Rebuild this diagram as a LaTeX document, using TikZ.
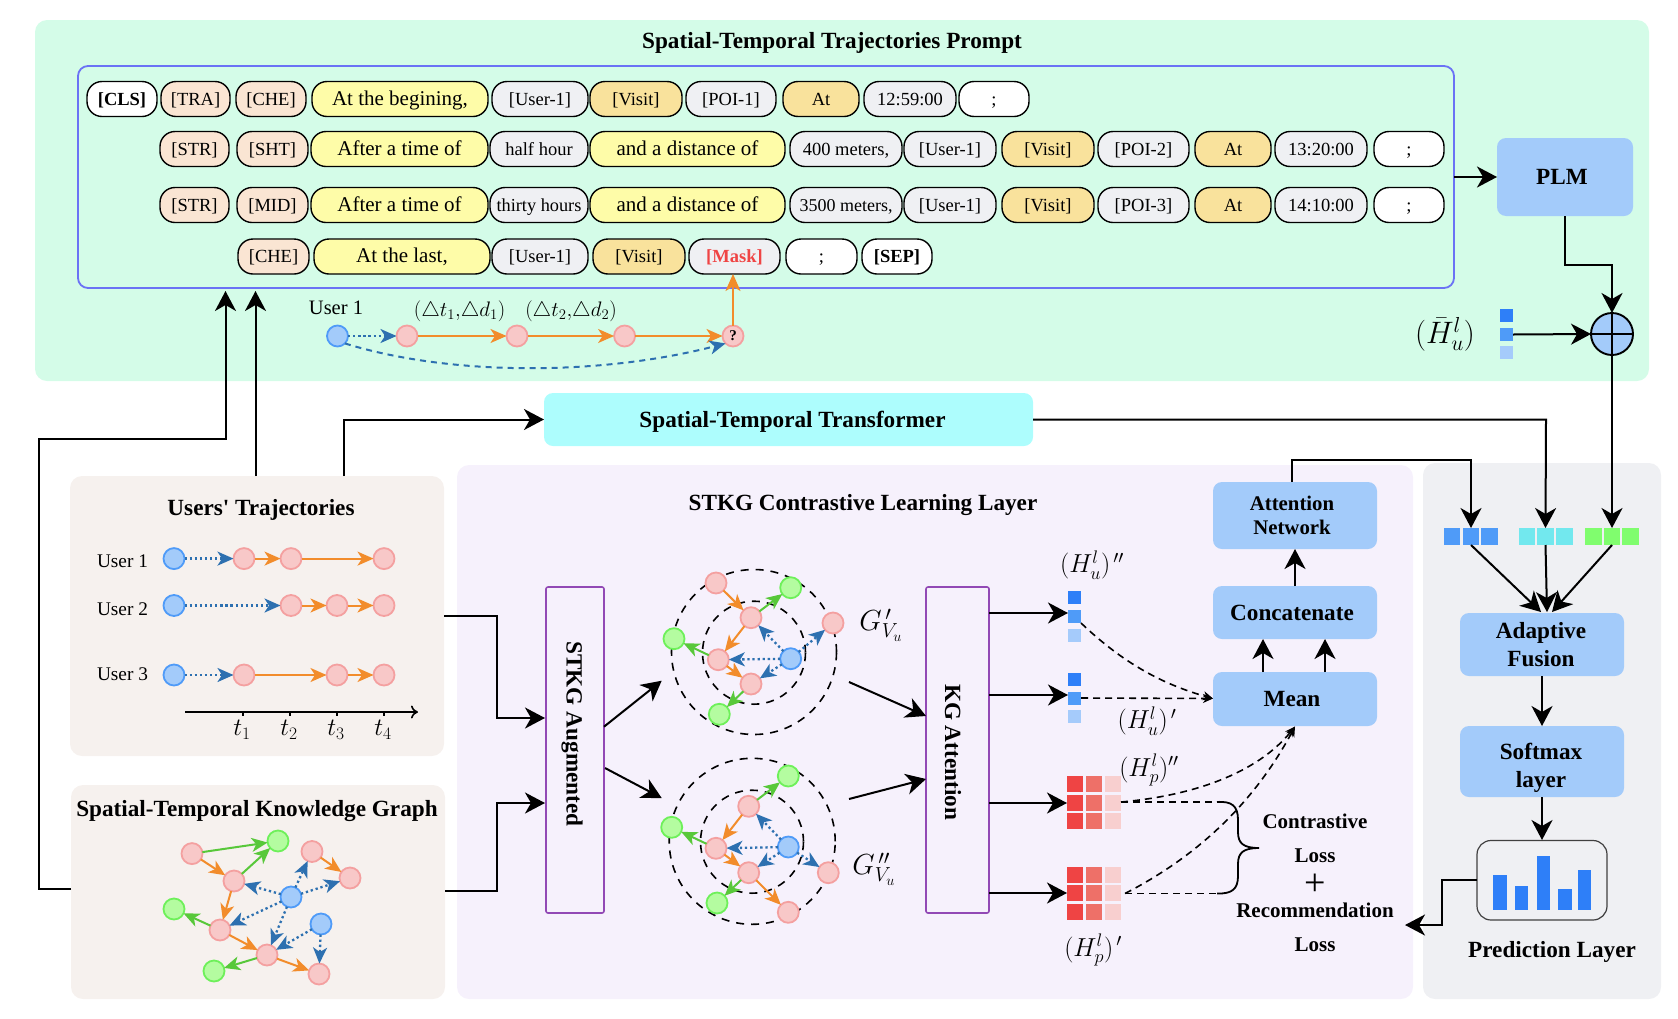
\RequirePackage{fix-cm}
\documentclass[tikz,border=0pt]{standalone}
\usepackage{fontspec}
\setmainfont{Liberation Serif}
\newfontfamily\plainf{Liberation Serif}
\usetikzlibrary{arrows.meta,calc,positioning}
\definecolor{cgreenbg}{HTML}{D4FCE8}
\definecolor{cpromptb}{HTML}{6B72F5}
\definecolor{cpeach}{HTML}{FAE5D3}
\definecolor{cyell}{HTML}{FEFCA8}
\definecolor{cgray}{HTML}{EFF0F3}
\definecolor{cgold}{HTML}{F9E29C}
\definecolor{cboxb}{HTML}{A3CBFA}
\definecolor{ccyan}{HTML}{ADFDFD}
\definecolor{cwarm}{HTML}{F6F1EE}
\definecolor{cviolet}{HTML}{F6F1FC}
\definecolor{cpurple}{HTML}{9249B5}
\definecolor{cpinkf}{HTML}{F8C8C8}
\definecolor{cpinkd}{HTML}{F4A0A0}
\definecolor{cbluef}{HTML}{A3CBFA}
\definecolor{cblued}{HTML}{4F9BF8}
\definecolor{cgreenf}{HTML}{B4FCA0}
\definecolor{cgreend}{HTML}{6EF05A}
\definecolor{corange}{HTML}{F28C2B}
\definecolor{cdarkblue}{HTML}{2D70B0}
\definecolor{cdgreen}{HTML}{58C83A}
\definecolor{sqa}{HTML}{2E7FF8}
\definecolor{sqb}{HTML}{4F9BF8}
\definecolor{sqc}{HTML}{A5CBFB}
\definecolor{sqcy}{HTML}{72E8EE}
\definecolor{sqgr}{HTML}{80FD6E}
\definecolor{reda}{HTML}{EF4444}
\definecolor{redb}{HTML}{EE7068}
\definecolor{redc}{HTML}{F8CFCF}
\newcommand{\fsz}[1]{\fontsize{#1}{#1}\selectfont}
\tikzset{
  x=1pt,y=-1pt,
  basebox/.style={inner sep=0pt,outer sep=0pt,align=center},
  pillbox/.style={basebox,draw=black,line width=1.4pt,rounded corners=15pt,font=\fsz{18.5},text height=16pt,text depth=4pt},
  panelbox/.style={basebox,rounded corners=12pt},
  bluebox/.style={basebox,fill=cboxb,rounded corners=9pt,font=\fsz{23.2}\bfseries},
  oneline/.style={text height=18pt,text depth=3pt},
  purplebox/.style={basebox,draw=cpurple,line width=1.6pt,rounded corners=2pt,font=\fsz{23.2}\bfseries},
  btitle/.style={basebox,font=\fsz{23.2}\bfseries},
  losstext/.style={basebox,font=\fsz{21}\bfseries},
  mathlab/.style={basebox,font=\fsz{26}},
  pinknode/.style={circle,minimum size=21pt,inner sep=0pt,outer sep=0pt,fill=cpinkf,draw=cpinkd,line width=1.8pt},
  bluenode/.style={circle,minimum size=21pt,inner sep=0pt,outer sep=0pt,fill=cbluef,draw=cblued,line width=1.8pt},
  greennode/.style={circle,minimum size=21pt,inner sep=0pt,outer sep=0pt,fill=cgreenf,draw=cgreend,line width=1.8pt},
  oarrow/.style={draw=corange,line width=2pt,-{Stealth[length=16pt,width=14pt,inset=4.5pt]}},
  garrow/.style={draw=cdgreen,line width=2pt,-{Stealth[length=16pt,width=14pt,inset=4.5pt]}},
  barrow/.style={draw=cdarkblue,line width=2.3pt,dash pattern=on 2.3pt off 2.8pt,-{Stealth[length=16pt,width=14pt,inset=4.5pt,sep=0pt]}},
  blk/.style={draw=black,line width=2pt,-{Stealth[length=20pt,width=21pt,inset=6pt]}},
  blks/.style={draw=black,line width=1.9pt},
  dsh/.style={draw=black,line width=1.6pt,dash pattern=on 7pt off 5pt},
  dsha/.style={dsh,-{Stealth[length=10pt,width=9pt,inset=3pt]}},
  ringc/.style={circle,draw=black,line width=1.6pt,dash pattern=on 8pt off 7pt,inner sep=0pt},
}
\newcommand{\rbox}[7][]{\node[#2,minimum width={(#5)-(#3)},minimum height={(#6)-(#4)},#1] (#7) at ({((#3)+(#5))/2},{((#4)+(#6))/2})}
\newcommand{\pill}[6]{\rbox{pillbox,fill=#5}{#2}{#3-17.5}{#4}{#3+17.5}{#1}{#6};}
\newcommand{\sqr}[6]{\node[inner sep=0pt,outer sep=0pt,fill=#6,minimum width={(#4)-(#2)},minimum height={(#5)-(#3)}] (#1) at ({((#2)+(#4))/2},{((#3)+(#5))/2}) {};}
\newcommand{\redgrid}[4]{%
  \sqr{#1a}{1067}{#2}{1083}{#2+16}{reda}\sqr{#1b}{1086}{#2}{1102}{#2+16}{redb}\sqr{#1c}{1105}{#2}{1121}{#2+16}{redc}
  \sqr{#1d}{1067}{#3}{1083}{#3+16}{reda}\sqr{#1e}{1086}{#3}{1102}{#3+16}{redb}\sqr{#1f}{1105}{#3}{1121}{#3+16}{redc}
  \sqr{#1g}{1067}{#4}{1083}{#4+16}{reda}\sqr{#1h}{1086}{#4}{1102}{#4+16}{redb}\sqr{#1i}{1105}{#4}{1121}{#4+16}{redc}}
\begin{document}
\begin{tikzpicture}
\useasboundingbox (0,0) rectangle (1678,1018);
% ---- panels
\rbox{panelbox,fill=cgreenbg}{35}{20}{1649}{381}{prompt}{};
\rbox{panelbox,fill=cviolet}{457}{465}{1413}{999}{clpanel}{};
\rbox{panelbox,fill=cgray}{1423}{463}{1661}{999}{predpanel}{};
\rbox{panelbox,fill=cwarm}{70}{476}{444}{756}{users}{};
\rbox{panelbox,fill=cwarm}{71}{785}{445}{999}{kg}{};
\node[btitle] (ptitle) at (832,43) {Spatial-Temporal Trajectories Prompt};
\rbox{basebox,draw=cpromptb,line width=1.8pt,rounded corners=10pt}{78}{66}{1454}{288}{pbox}{};
% row 1
\pill{r1a}{87}{99}{157}{white}{\textbf{[CLS]}}
\pill{r1b}{161}{99}{230}{cpeach}{[TRA]}
\pill{r1c}{236}{99}{306}{cpeach}{[CHE]}
\pill{r1d}{312}{99}{488}{cyell}{\fsz{21}At the begining,}
\pill{r1e}{492}{99}{588}{cgray}{[User-1]}
\pill{r1f}{590}{99}{682}{cgold}{[Visit]}
\pill{r1g}{686}{99}{776}{cgray}{[POI-1]}
\pill{r1h}{783}{99}{859}{cgold}{At}
\pill{r1i}{864}{99}{956}{cgray}{12:59:00}
\pill{r1j}{959}{99}{1029}{white}{;}
% row 2
\pill{r2a}{160}{149}{229}{cpeach}{[STR]}
\pill{r2b}{237}{149}{308}{cpeach}{[SHT]}
\pill{r2c}{311}{149}{488}{cyell}{\fsz{21}After a time of}
\pill{r2d}{490}{149}{588}{cgray}{half hour}
\pill{r2e}{590}{149}{785}{cyell}{\fsz{21}and a distance of}
\pill{r2f}{790}{149}{902}{cgray}{400 meters,}
\pill{r2g}{904}{149}{996}{cgray}{[User-1]}
\pill{r2h}{1002}{149}{1094}{cgold}{[Visit]}
\pill{r2i}{1098}{149}{1189}{cgray}{[POI-2]}
\pill{r2j}{1195}{149}{1271}{cgold}{At}
\pill{r2k}{1275}{149}{1367}{cgray}{13:20:00}
\pill{r2l}{1374}{149}{1444}{white}{;}
% row 3
\pill{r3a}{160}{205}{229}{cpeach}{[STR]}
\pill{r3b}{237}{205}{308}{cpeach}{[MID]}
\pill{r3c}{311}{205}{488}{cyell}{\fsz{21}After a time of}
\pill{r3d}{490}{205}{588}{cgray}{\fsz{18.3}thirty hours}
\pill{r3e}{590}{205}{785}{cyell}{\fsz{21}and a distance of}
\pill{r3f}{790}{205}{902}{cgray}{\fsz{18}3500 meters,}
\pill{r3g}{904}{205}{996}{cgray}{[User-1]}
\pill{r3h}{1002}{205}{1094}{cgold}{[Visit]}
\pill{r3i}{1098}{205}{1189}{cgray}{[POI-3]}
\pill{r3j}{1195}{205}{1271}{cgold}{At}
\pill{r3k}{1275}{205}{1367}{cgray}{14:10:00}
\pill{r3l}{1374}{205}{1444}{white}{;}
% row 4
\pill{r4a}{238}{256.5}{309}{cpeach}{[CHE]}
\pill{r4b}{314}{256.5}{490}{cyell}{\fsz{21}At the last,}
\pill{r4c}{492}{256.5}{588}{cgray}{[User-1]}
\pill{r4d}{593}{256.5}{685}{cgold}{[Visit]}
\pill{r4e}{689}{256.5}{780}{cgray}{\textcolor{reda}{\textbf{[Mask]}}}
\pill{r4f}{786}{256.5}{857}{white}{;}
\pill{r4g}{862}{256.5}{932}{white}{\textbf{[SEP]}}
% mini trajectory
\node[basebox,font=\fsz{20.5}] (mu) at (336,308) {User 1};
\node[mathlab,font=\fsz{21}] (md1) at (459.6,311) {$(\triangle t_1,\!\triangle d_1)$};
\node[mathlab,font=\fsz{21}] (md2) at (571,311) {$(\triangle t_2,\!\triangle d_2)$};
\node[bluenode] (m0) at (337.5,336) {};
\node[pinknode] (m1) at (407,336) {};
\node[pinknode] (m2) at (517,336) {};
\node[pinknode] (m3) at (624.6,336) {};
\node[pinknode,font=\fsz{15}\bfseries] (m4) at (733,336) {?};
\draw[barrow] (m0) -- (m1);
\draw[oarrow] (m1) -- (m2);
\draw[oarrow] (m2) -- (m3);
\draw[oarrow] (m3) -- (m4);
\draw[oarrow,-{Stealth[length=17pt,width=15pt,inset=4.5pt]}] (m4) -- (r4e.south -| m4);
\draw[draw=cdarkblue,line width=2pt,dash pattern=on 6pt off 5pt,-{Stealth[length=16pt,width=14pt,inset=4.5pt]}] (m0.south east) .. controls (450,376) and (600,376) .. (m4.south west);
% PLM and fusion
\rbox{bluebox,oneline}{1497}{138}{1633}{216}{plm}{\hspace*{-6pt}PLM};
\coordinate (pout) at (1454,177);
\draw[blk] (pout) -- (plm.west);
\node[circle,minimum size=42pt,inner sep=0pt,outer sep=0pt,fill=cboxb,draw=black,line width=1.9pt] (fus) at (1612,334) {};
\draw[blks] (fus.north) -- (fus.south);
\draw[blks] (fus.west) -- (fus.east);
\draw[blk] (plm.south) -- ++(0,49) -| (fus.north);
\sqr{ha}{1500}{309}{1513}{322}{sqa}
\sqr{hb}{1500}{328}{1513}{341}{sqb}
\sqr{hc}{1500}{346}{1513}{359}{sqc}
\draw[blk] (hb.east) -- (fus.west);
\node[mathlab,font=\fsz{31}] (hbar) at (1445,334) {$(\bar{H}_u^l)$};
% transformer
\rbox{basebox,oneline,fill=ccyan,rounded corners=9pt,font=\fsz{23.2}\bfseries}{544}{393}{1033}{446}{trans}{\hspace*{8pt}Spatial-Temporal Transformer};
% users panel
\node[btitle] (utitle) at (261,510) {Users{\plainf\bfseries'} Trajectories};
\node[basebox,font=\fsz{19.3},anchor=west] (ul1) at (97,561) {User 1};
\node[basebox,font=\fsz{19.3},anchor=west] (ul2) at (97,609.5) {User 2};
\node[basebox,font=\fsz{19.3},anchor=west] (ul3) at (97,674.5) {User 3};
\node[bluenode] (ua0) at (174,558.6) {};
\node[pinknode] (ua1) at (244,558.6) {};
\node[pinknode] (ua2) at (291,558.6) {};
\node[pinknode] (ua4) at (384,558.6) {};
\draw[barrow] (ua0) -- (ua1); \draw[oarrow] (ua1) -- (ua2); \draw[oarrow] (ua2) -- (ua4);
\node[bluenode] (ub0) at (174,605.5) {};
\node[pinknode] (ub2) at (291,605.5) {};
\node[pinknode] (ub3) at (337,605.5) {};
\node[pinknode] (ub4) at (384,605.5) {};
\draw[barrow] (ub0) -- (ub2); \draw[oarrow] (ub2) -- (ub3); \draw[oarrow] (ub3) -- (ub4);
\node[bluenode] (uc0) at (174,675) {};
\node[pinknode] (uc1) at (244,675) {};
\node[pinknode] (uc3) at (337,675) {};
\node[pinknode] (uc4) at (384,675) {};
\draw[barrow] (uc0) -- (uc1); \draw[oarrow] (uc1) -- (uc3); \draw[oarrow] (uc3) -- (uc4);
\coordinate (axa) at (185,712); \coordinate (axb) at (418,712);
\draw[line width=1.6pt,-{To[length=7pt,width=13pt]}] (axa) -- (axb);
\foreach \tx/\ti in {243/1,290/2,337/3,384/4}{
  \draw[line width=1.2pt] (\tx,712) -- (\tx,716);
  \node[mathlab,font=\fsz{25}] (tl\ti) at (\tx-1,730) {$t_{\ti}$};
}
% KG panel
\node[btitle] (ktitle) at (257,811) {Spatial-Temporal Knowledge Graph};
\node[pinknode] (kA) at (192,853.6) {};
\node[greennode] (kB) at (278,841) {};
\node[pinknode] (kC) at (312,851.5) {};
\node[pinknode] (kD) at (350,878) {};
\node[pinknode] (kE) at (234,881) {};
\node[bluenode] (kF) at (291,897) {};
\node[greennode] (kG) at (174,909) {};
\node[pinknode] (kH) at (220,930) {};
\node[bluenode] (kI) at (321,924) {};
\node[pinknode] (kJ) at (267,955) {};
\node[greennode] (kK) at (214,971) {};
\node[pinknode] (kL) at (319,974) {};
\draw[garrow] (kA) -- (kB); \draw[oarrow] (kA) -- (kE); \draw[garrow] (kE) -- (kB);
\draw[oarrow] (kC) -- (kD); \draw[barrow] (kF) -- (kC); \draw[barrow] (kF) -- (kD);
\draw[barrow] (kF) -- (kE); \draw[barrow] (kF) -- (kH); \draw[barrow] (kF) -- (kJ);
\draw[barrow] (kI) -- (kJ); \draw[barrow] (kI) -- (kL); \draw[oarrow] (kE) -- (kH);
\draw[garrow] (kH) -- (kG); \draw[oarrow] (kH) -- (kJ); \draw[garrow] (kJ) -- (kK);
\draw[oarrow] (kJ) -- (kL);
% contrastive panel
\node[btitle] (ctitle) at (863,505) {STKG Contrastive Learning Layer};
\rbox{purplebox}{546}{587}{604}{913}{aug}{};
\node[btitle,rotate=-90] (augt) at (572,734) {STKG Augmented};
\rbox{purplebox}{926}{587}{989}{913}{att}{};
\node[btitle,rotate=-90] (attt) at (953,752) {KG Attention};
% upper graph
\node[ringc,minimum size=165pt] (uo) at (754,652) {};
\node[ringc,minimum size=103pt] (ui) at (754,652.7) {};
\node[pinknode] (pa) at (716,583) {};
\node[greennode] (pb) at (790.7,587.7) {};
\node[pinknode] (pc) at (751,617.7) {};
\node[pinknode] (pd) at (833,623) {};
\node[greennode] (pe) at (674,638.7) {};
\node[pinknode] (pf) at (718.3,659.7) {};
\node[bluenode] (pg) at (790.7,658.7) {};
\node[pinknode] (ph) at (751,684) {};
\node[greennode] (pi) at (719.3,714.3) {};
\draw[oarrow] (pa) -- (pc); \draw[garrow] (pc) -- (pb); \draw[oarrow] (pc) -- (pf);
\draw[barrow] (pg) -- (pc); \draw[barrow] (pg) -- (pd); \draw[barrow] (pg) -- (pf);
\draw[barrow] (pg) -- (ph); \draw[garrow] (pf) -- (pe); \draw[oarrow] (pf) -- (ph);
\draw[garrow] (ph) -- (pi);
% lower graph
\node[ringc,minimum size=166pt] (lo) at (752.2,841.3) {};
\node[ringc,minimum size=103pt] (li) at (752,841.7) {};
\node[greennode] (qa) at (788.3,776) {};
\node[pinknode] (qc) at (748.7,806.3) {};
\node[greennode] (qe) at (671.7,827.3) {};
\node[pinknode] (qf) at (716,848.3) {};
\node[bluenode] (qg) at (788.3,847) {};
\node[pinknode] (qd) at (828.3,872.7) {};
\node[pinknode] (qh) at (748.7,872.7) {};
\node[greennode] (qi) at (717,903) {};
\node[pinknode] (qj) at (788.3,912.3) {};
\draw[garrow] (qc) -- (qa); \draw[oarrow] (qc) -- (qf); \draw[barrow] (qg) -- (qc);
\draw[barrow] (qg) -- (qf); \draw[barrow] (qg) -- (qh); \draw[barrow] (qg) -- (qd);
\draw[garrow] (qf) -- (qe); \draw[oarrow] (qf) -- (qh); \draw[garrow] (qh) -- (qi);
\draw[oarrow] (qh) -- (qj);
\node[mathlab,font=\fsz{29}] (g1) at (881,625) {$G^{\,\prime}_{V_u}$};
\node[mathlab,font=\fsz{29}] (g2) at (874,869) {$G^{\,\prime\prime}_{V_u}$};
% arrows between
\coordinate (c1) at (604,726.7); \coordinate (c2) at (661.7,680.7);
\coordinate (c3) at (605,768); \coordinate (c4) at (661.7,798);
\coordinate (c5) at (849,682); \coordinate (c6) at (926,716);
\coordinate (c7) at (849,799); \coordinate (c8) at (926,779);
\draw[blk] (c1) -- (c2); \draw[blk] (c3) -- (c4); \draw[blk] (c5) -- (c6); \draw[blk] (c7) -- (c8);
\coordinate (uout) at (444,616); \coordinate (ain1) at (545,718);
\coordinate (kout) at (445,891); \coordinate (ain2) at (545,803);
\draw[blk] (uout) -- (497,616) -- (497,718) -- (ain1);
\draw[blk] (kout) -- (497,891) -- (497,803) -- (ain2);
% embeddings
\sqr{ua}{1068}{591}{1081}{604}{sqa}\sqr{ub}{1068}{610}{1081}{623}{sqb}\sqr{uc}{1068}{629}{1081}{642}{sqc}
\sqr{va}{1068}{673}{1081}{686}{sqa}\sqr{vb}{1068}{692}{1081}{705}{sqb}\sqr{vc}{1068}{710}{1081}{723}{sqc}
\redgrid{ma}{776}{795}{813}
\redgrid{mb}{867}{885}{904}
\coordinate (t1) at (989,613); \coordinate (t2) at (989,695); \coordinate (t3) at (989,803); \coordinate (t4) at (989,893);
\draw[blk] (t1) -- (ub.west |- t1);
\draw[blk] (t2) -- (vb.west |- t2);
\draw[blk] (t3) -- (mad.west |- t3);
\draw[blk] (t4) -- (mbd.west |- t4);
\node[mathlab] (l1) at (1092,565) {$(H_u^l)^{\,\prime\prime}$};
\node[mathlab] (l2) at (1147,721) {$(H_u^l)^{\,\prime}$};
\node[mathlab] (l3) at (1149,770) {$(H_p^l)^{\prime\prime}$};
\node[mathlab] (l4) at (1093,950) {$(H_p^l)^{\,\prime}$};
% blue boxes
\rbox{bluebox,font=\fsz{20.8}\bfseries}{1213}{482}{1377}{549}{an}{\hspace*{-6pt}Attention\\[3pt]\hspace*{-6pt}Network};
\rbox{bluebox,oneline}{1213}{586}{1377}{639}{cc}{\hspace*{-6pt}Concatenate};
\rbox{bluebox,oneline}{1213}{672}{1377}{726}{mn}{\hspace*{-6pt}Mean};
\coordinate (ccup) at (1295,586); \coordinate (anlo) at (1295,549);
\draw[blk] (ccup) -- (anlo);
\coordinate (mu1) at (1263,672); \coordinate (mu2) at (1325,672);
\draw[blk] (mu1) -- (mu1 |- cc.south);
\draw[blk] (mu2) -- (mu2 |- cc.south);
% dashed lines
\coordinate (d1s) at (1081,623); \coordinate (d2s) at (1081,698); \coordinate (mnw) at (1213,698.5);
\coordinate (d3s) at (1121,802); \coordinate (d4s) at (1125,893.5); \coordinate (mns) at (1295,726.5);
\coordinate (b1) at (1217,802); \coordinate (b2) at (1217,893.5);
\draw[dsha] (d1s) .. controls (1125,665) and (1165,685) .. (mnw);
\draw[dsha] (d2s) -- (mnw);
\draw[dsha] (d3s) .. controls (1200,795) and (1260,770) .. (mns);
\draw[dsha] (d4s) .. controls (1190,860) and (1250,810) .. (mns);
\draw[dsh] (d3s) -- (b1);
\draw[dsh] (d4s) -- (b2);
\coordinate (btip) at (1259,848);
\draw[line width=1.8pt] (b1) .. controls (1232,801) and (1238,806) .. (1238,820) -- (1238,832) .. controls (1238,843) and (1243,848) .. (btip)
  (btip) .. controls (1243,848) and (1238,853) .. (1238,864) -- (1238,876) .. controls (1238,889) and (1232,894) .. (b2);
% loss text
\node[losstext] (lc) at (1315,821) {Contrastive};
\node[losstext] (ll) at (1315,856) {Loss};
\node[basebox,font=\fsz{38}] (lp) at (1315,885) {+};
\node[losstext] (lr) at (1315,910) {Recommendation};
\node[losstext] (ll2) at (1315,945) {Loss};
% prediction panel
\sqr{s1}{1444}{528}{1460}{545}{sqb}\sqr{s2}{1463}{528}{1479}{545}{sqb}\sqr{s3}{1481}{528}{1498}{545}{sqb}
\sqr{s4}{1519}{528}{1535}{545}{sqcy}\sqr{s5}{1537}{528}{1554}{545}{sqcy}\sqr{s6}{1556}{528}{1573}{545}{sqcy}
\sqr{s7}{1585}{528}{1602}{545}{sqgr}\sqr{s8}{1604}{528}{1620}{545}{sqgr}\sqr{s9}{1622}{528}{1639}{545}{sqgr}
\rbox{bluebox}{1460}{613}{1624}{676}{ada}{\hspace*{-2pt}Adaptive\\[4.5pt]\hspace*{-2pt}Fusion};
\rbox{bluebox}{1460}{726}{1624}{797}{sft}{\rule{0pt}{29pt}\hspace*{-2pt}Softmax\\[5.5pt]\hspace*{-2pt}layer};
\rbox{basebox,draw=black!75,line width=1.2pt,rounded corners=14pt}{1477}{840.5}{1607}{920}{chart}{};
\sqr{bar1}{1493}{875}{1507}{910}{sqa}
\sqr{bar2}{1515}{886}{1528}{910}{sqa}
\sqr{bar3}{1537}{856}{1550}{910}{sqa}
\sqr{bar4}{1558}{889}{1572}{910}{sqa}
\sqr{bar5}{1578}{870}{1591}{910}{sqa}
\node[btitle] (ptl) at (1552,952) {Prediction Layer};
\draw[blk] (s2.south) -- (1541,612);
\draw[blk] (s5.south) -- (1547,612);
\draw[blk] (s8.south) -- (1552,612);
\coordinate (ad) at (1542,676); \coordinate (sf) at (1542,726); \coordinate (sd) at (1542,797); \coordinate (chu) at (1542,840);
\draw[blk] (ad) -- (sf);
\draw[blk] (sd) -- (chu);
\coordinate (chl) at (1477,880); \coordinate (ltip) at (1405,925);
\draw[blk] (chl) -- (1442,880) -- (1442,925) -- (ltip);
% long connectors
\draw[blk] (fus.south) -- (s8.north);
\coordinate (anup) at (1292,482);
\draw[blk] (anup) -- (1292,460) -- (1471,460) -- (s2.north);
\draw[blk] (trans.east) -- (1546,419.5) -- (s5.north);
\coordinate (uin) at (344,476); \coordinate (tin) at (544,419.5);
\draw[blk] (uin) -- (344,419.5) -- (tin);
\coordinate (uup) at (255.5,476); \coordinate (ptipa) at (255.5,291);
\draw[blk] (uup) -- (ptipa);
\coordinate (kl) at (71,889); \coordinate (ptipb) at (225.5,291);
\draw[blk] (kl) -- (39,889) -- (39,439) -- (225.5,439) -- (ptipb);
\end{tikzpicture}
\end{document}
